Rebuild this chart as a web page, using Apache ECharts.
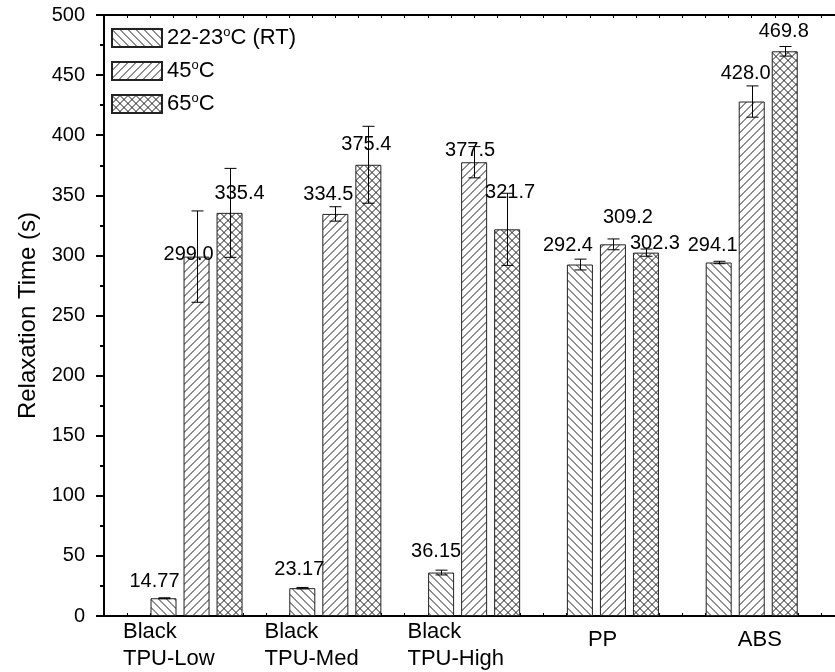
<!DOCTYPE html>
<html>
<head>
<meta charset="utf-8">
<script src="https://cdn.jsdelivr.net/npm/echarts@6/dist/echarts.min.js"></script>
<style>
  html, body { margin: 0; padding: 0; background: #fff; }
  #chart { width: 835px; height: 672px; }
</style>
</head>
<body>
<div id="chart"></div>
<script>
// ---- data ----
const categories = ['Black\nTPU-Low', 'Black\nTPU-Med', 'Black\nTPU-High', 'PP', 'ABS'];
const categoryPos = [1, 2, 3, 4, 5];
const seriesNames = ['22-23°C (RT)', '45°C', '65°C'];

const rtValues  = [14.77, 23.17, 36.15, 292.4, 294.1];
const rtErrors  = [0.4, 0.6, 2.0, 4.5, 1.0];
const t45Values = [299.0, 334.5, 377.5, 309.2, 428.0];
const t45Errors = [38, 6, 13, 4.5, 13];
const t65Values = [335.4, 375.4, 321.7, 302.3, 469.8];
const t65Errors = [37, 32, 30, 3, 4];

const yTickValues = [0, 50, 100, 150, 200, 250, 300, 350, 400, 450, 500];

// ---- layout helpers (label nudges in px, category label anchors on the x scale) ----
const labelShift = [
  [[-9, -3], [-3, -5], [-5, -7], [-12, -5], [-6, -3]],
  [[-8, 12], [-7, -5], [-4, 2], [15, -13], [-6, -14]],
  [[10, -5], [-2, -6], [3, -23], [9, 5], [-1, -6]]
];
const xMin = 1 / 3, xMax = 5.6;
const labelAnchors = [0.47, 1.49, 2.52, 3.82, 4.90];
const barOffsets = [-33, 0, 33];

// ---- hatch fills ----
function hatch(kind) {
  const n = 8;
  const c = document.createElement('canvas');
  c.width = n; c.height = n;
  const g = c.getContext('2d');
  g.fillStyle = '#fff';
  g.fillRect(0, 0, n, n);
  g.strokeStyle = '#1a1a1a';
  g.lineWidth = 1;
  g.beginPath();
  for (let k = -1; k <= 2; k++) {
    if (kind === 'back' || kind === 'cross') {
      g.moveTo(k * n - n, -n + 0.5); g.lineTo(k * n + 2 * n, 2 * n + 0.5);
    }
    if (kind === 'fwd' || kind === 'cross') {
      g.moveTo(k * n - n, 2 * n + 0.5); g.lineTo(k * n + 2 * n, -n + 0.5);
    }
  }
  g.stroke();
  return { image: c, repeat: 'repeat' };
}
const fills = [hatch('back'), hatch('fwd'), hatch('cross')];

const allValues = [rtValues, t45Values, t65Values];
const allErrors = [rtErrors, t45Errors, t65Errors];

const FONT = 'Liberation Sans, Arial, sans-serif';

const barSeries = allValues.map((vals, s) => ({
  name: seriesNames[s],
  type: 'bar',
  xAxisIndex: 0,
  yAxisIndex: 0,
  barWidth: 26,
  barGap: '27%',
  z: 2,
  itemStyle: { color: fills[s], borderColor: '#222', borderWidth: 1 },
  label: {
    show: true,
    position: 'top',
    distance: 4,
    color: '#000',
    fontFamily: FONT,
    fontSize: 20,
    formatter: p => {
      const v = p.value[1];
      return v < 100 ? v.toFixed(2) : v.toFixed(1);
    }
  },
  data: vals.map((v, i) => ({
    value: [categoryPos[i], v],
    label: { offset: labelShift[s][i] }
  }))
}));

const errorData = [];
allValues.forEach((vals, s) => {
  vals.forEach((v, i) => {
    errorData.push([categoryPos[i], v - allErrors[s][i], v + allErrors[s][i], s]);
  });
});

const errorSeries = {
  type: 'custom',
  xAxisIndex: 0,
  yAxisIndex: 0,
  z: 3,
  silent: true,
  data: errorData,
  encode: { x: 0, y: [1, 2] },
  renderItem: (params, api) => {
    const x = api.value(0);
    const lo = api.coord([x, api.value(1)]);
    const hi = api.coord([x, api.value(2)]);
    const cx = Math.round(lo[0] + barOffsets[api.value(3)]) + 0.5;
    const cap = 6;
    const st = { stroke: '#000', lineWidth: 1 };
    return {
      type: 'group',
      children: [
        { type: 'line', shape: { x1: cx, y1: hi[1], x2: cx, y2: lo[1] }, style: st },
        { type: 'line', shape: { x1: cx - cap, y1: hi[1], x2: cx + cap, y2: hi[1] }, style: st },
        { type: 'line', shape: { x1: cx - cap, y1: lo[1], x2: cx + cap, y2: lo[1] }, style: st }
      ]
    };
  }
};

// fine ticks along the frame, every sixth of a category step
const frameTicks = [];
for (let k = 0; xMin + k / 6 <= xMax + 1e-9; k++) frameTicks.push(xMin + k / 6);

const chart = echarts.init(document.getElementById('chart'), null, { renderer: 'canvas' });
chart.setOption({
  animation: false,
  backgroundColor: '#fff',
  textStyle: { fontFamily: FONT },
  grid: { left: 104, right: 0, top: 15, bottom: 56, containLabel: false, outerBoundsMode: 'none' },
  legend: {
    orient: 'vertical',
    left: 106,
    top: 21,
    itemWidth: 50,
    itemHeight: 18,
    itemGap: 10,
    icon: 'rect',
    data: seriesNames,
    formatter: name => {
      const parts = name.split('°');
      return '{n|' + parts[0] + '}{s|o}{n|' + parts[1] + '}';
    },
    textStyle: {
      rich: {
        n: { fontFamily: FONT, fontSize: 22, color: '#000', lineHeight: 24 },
        s: { fontFamily: FONT, fontSize: 13, color: '#000', lineHeight: 13, verticalAlign: 'top' }
      }
    }
  },
  xAxis: [
    {
      type: 'value',
      position: 'bottom',
      min: xMin,
      max: xMax,
      splitLine: { show: false },
      axisLine: { show: true, onZero: false, lineStyle: { color: '#000', width: 2 } },
      axisTick: { show: true, inside: true, length: 3, customValues: frameTicks, lineStyle: { color: '#000', width: 1 } },
      axisLabel: {
        show: true,
        customValues: labelAnchors,
        margin: 2,
        align: 'left',
        verticalAlign: 'top',
        color: '#000',
        fontFamily: FONT,
        fontSize: 22,
        lineHeight: 27,
        formatter: (v) => {
          let idx = 0, best = 1e9;
          labelAnchors.forEach((a, i) => { if (Math.abs(a - v) < best) { best = Math.abs(a - v); idx = i; } });
          const t = categories[idx];
          return t.indexOf('\n') >= 0 ? t : '{s|' + t + '}';
        },
        rich: {
          s: { fontFamily: FONT, fontSize: 22, color: '#000', lineHeight: 43 }
        }
      }
    },
    {
      type: 'value',
      position: 'top',
      min: xMin,
      max: xMax,
      splitLine: { show: false },
      axisLine: { show: true, onZero: false, lineStyle: { color: '#000', width: 2 } },
      axisTick: { show: true, inside: true, length: 3, customValues: frameTicks, lineStyle: { color: '#000', width: 1 } },
      axisLabel: { show: false }
    }
  ],
  yAxis: {
    type: 'value',
    min: 0,
    max: 500,
    interval: 50,
    name: 'Relaxation Time (s)',
    nameLocation: 'middle',
    nameGap: 62,
    nameTextStyle: { color: '#000', fontFamily: FONT, fontSize: 24 },
    splitLine: { show: false },
    axisLine: { show: true, lineStyle: { color: '#000', width: 2 } },
    axisTick: { show: true, length: 8, lineStyle: { color: '#000', width: 2 } },
    minorTick: { show: true, splitNumber: 2, length: 4, lineStyle: { color: '#000', width: 2 } },
    axisLabel: {
      margin: 19,
      color: '#000',
      fontFamily: FONT,
      fontSize: 20,
      formatter: v => (yTickValues.indexOf(v) >= 0 ? String(v) : '')
    }
  },
  series: [...barSeries, errorSeries]
});
</script>
</body>
</html>
